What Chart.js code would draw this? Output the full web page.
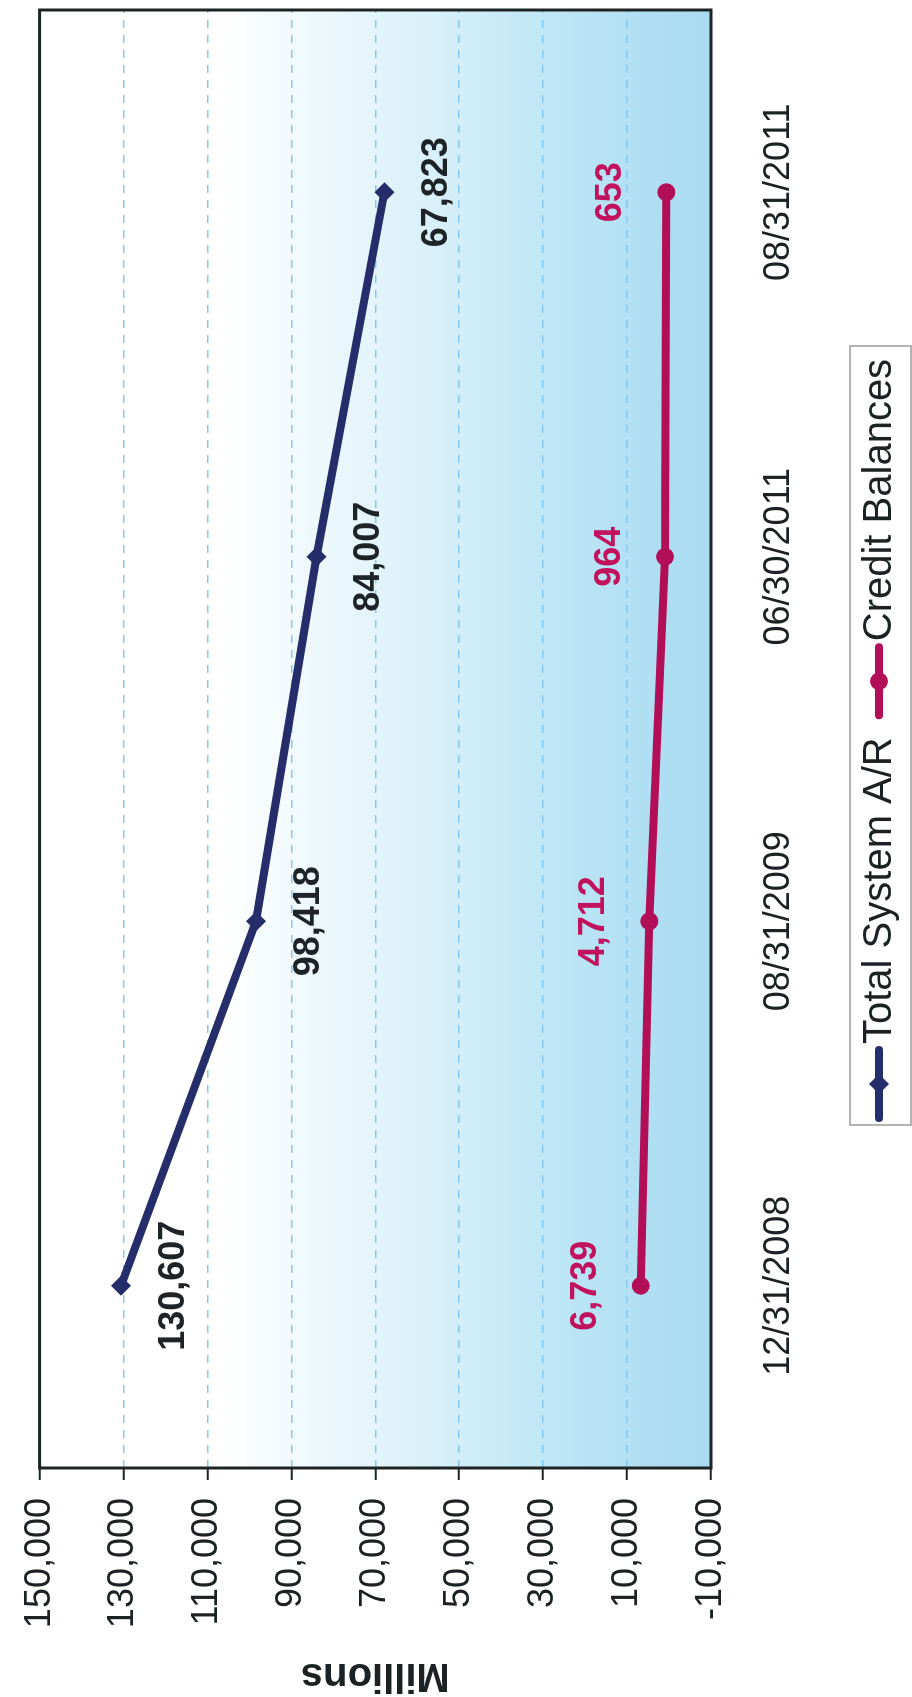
<!DOCTYPE html>
<html>
<head>
<meta charset="utf-8">
<script src="https://cdn.jsdelivr.net/npm/chart.js@4.4.0/dist/chart.umd.min.js"></script>
<style>
  html, body { margin: 0; padding: 0; background: #fff; overflow: hidden; width: 912px; height: 1697px; }
  /* the whole chart is laid out landscape and turned a quarter turn counter-clockwise */
  #wrap { position: absolute; left: 0; top: 0; width: 1697px; height: 912px;
          transform-origin: 0 0; transform: translateY(1697px) rotate(-90deg); }
  #chart { display: block; width: 1697px; height: 912px; }
</style>
</head>
<body>
<div id="wrap"><canvas id="chart" width="1697" height="912"></canvas></div>
<script>
// Data
const categories = ['12/31/2008', '08/31/2009', '06/30/2011', '08/31/2011'];
const totalSystemAR = [130607, 98418, 84007, 67823];
const creditBalances = [6739, 4712, 964, 653];
const valueTicks = [-10000, 10000, 30000, 50000, 70000, 90000, 110000, 130000, 150000];

const FONT = "'Liberation Sans', Arial, sans-serif";
const TEXT = '#1c2224';
const NAVY = '#252e6a';
const CRIMSON = '#b30f58';
const GRID = '#86c8f0';

// plot background: white at the top fading into light blue
const backgroundPlugin = {
  id: 'plotBackground',
  beforeDraw(chart) {
    const { ctx, chartArea: a } = chart;
    const g = ctx.createLinearGradient(0, a.top, 0, a.bottom);
    g.addColorStop(0, '#ffffff');
    g.addColorStop(0.27, '#ffffff');
    g.addColorStop(0.55, '#ddf2fa');
    g.addColorStop(0.78, '#bce5f5');
    g.addColorStop(1, '#a8daf0');
    ctx.save();
    ctx.fillStyle = g;
    ctx.fillRect(a.left, a.top, a.right - a.left, a.bottom - a.top);
    ctx.restore();
  }
};

// dark frame round the plot area
const framePlugin = {
  id: 'plotFrame',
  beforeDatasetsDraw(chart) {
    const { ctx, chartArea: a } = chart;
    ctx.save();
    ctx.strokeStyle = '#1e2424';
    ctx.lineWidth = 3;
    ctx.strokeRect(a.left, a.top, a.right - a.left, a.bottom - a.top);
    ctx.restore();
  }
};

// bold value labels under / over each point
const valueLabelPlugin = {
  id: 'valueLabels',
  afterDatasetsDraw(chart) {
    const ctx = chart.ctx;
    ctx.save();
    ctx.font = 'bold 36px ' + FONT;
    ctx.textAlign = 'center';
    ctx.textBaseline = 'middle';
    chart.data.datasets.forEach((ds, i) => {
      const meta = chart.getDatasetMeta(i);
      ctx.fillStyle = ds.labelColor;
      meta.data.forEach((pt, j) => {
        ctx.fillText(ds.data[j].toLocaleString('en-US'), pt.x, pt.y + ds.labelShift);
      });
    });
    ctx.restore();
  }
};

function drawMarker(ctx, style, x, y, r, color) {
  ctx.fillStyle = color;
  ctx.beginPath();
  if (style === 'rectRot') {
    ctx.moveTo(x, y - r);
    ctx.lineTo(x + r, y);
    ctx.lineTo(x, y + r);
    ctx.lineTo(x - r, y);
    ctx.closePath();
  } else {
    ctx.arc(x, y, r, 0, Math.PI * 2);
  }
  ctx.fill();
}

// legend box under the category labels
const legendPlugin = {
  id: 'boxLegend',
  afterDraw(chart) {
    const ctx = chart.ctx;
    const box = { left: 572, right: 1351, top: 850, bottom: 911 };
    const cy = 879;
    ctx.save();
    ctx.strokeStyle = '#9a9a9a';
    ctx.lineWidth = 1.5;
    ctx.strokeRect(box.left, box.top, box.right - box.left, box.bottom - box.top);
    ctx.font = '40px ' + FONT;
    ctx.textBaseline = 'middle';
    ctx.textAlign = 'left';
    let x = box.left + 7;
    chart.data.datasets.forEach((ds) => {
      ctx.strokeStyle = ds.borderColor;
      ctx.lineWidth = 8;
      ctx.lineCap = 'round';
      ctx.beginPath();
      ctx.moveTo(x, cy);
      ctx.lineTo(x + 68, cy);
      ctx.stroke();
      drawMarker(ctx, ds.pointStyle, x + 34, cy, ds.pointRadius, ds.borderColor);
      ctx.fillStyle = TEXT;
      ctx.fillText(ds.label, x + 74, cy + 1);
      x += 74 + ctx.measureText(ds.label).width + 22;
    });
    ctx.restore();
  }
};

const ctx = document.getElementById('chart').getContext('2d');
new Chart(ctx, {
  type: 'line',
  data: {
    labels: categories,
    datasets: [
      {
        label: 'Total System A/R',
        data: totalSystemAR,
        borderColor: NAVY,
        backgroundColor: NAVY,
        borderWidth: 8,
        borderCapStyle: 'round',
        borderJoinStyle: 'round',
        pointStyle: 'rectRot',
        pointRadius: 10,
        pointBorderWidth: 0,
        labelColor: '#1d2326',
        labelShift: 53
      },
      {
        label: 'Credit Balances',
        data: creditBalances,
        borderColor: CRIMSON,
        backgroundColor: CRIMSON,
        borderWidth: 8,
        borderCapStyle: 'round',
        borderJoinStyle: 'round',
        pointStyle: 'circle',
        pointRadius: 9,
        pointBorderWidth: 0,
        labelColor: '#c2125d',
        labelShift: -55
      }
    ]
  },
  options: {
    responsive: false,
    animation: false,
    devicePixelRatio: 1,
    layout: { padding: { top: 32, right: 5, left: 0, bottom: 0 } },
    plugins: { legend: { display: false }, tooltip: { enabled: false } },
    scales: {
      x: {
        offset: true,
        grid: { display: false, drawTicks: false },
        border: { display: false },
        ticks: { font: { family: FONT, size: 36 }, color: TEXT, padding: 46, maxRotation: 0 },
        afterFit: (s) => { s.height = 201; }
      },
      y: {
        min: valueTicks[0],
        max: valueTicks[valueTicks.length - 1],
        afterBuildTicks: (s) => { s.ticks = valueTicks.map(v => ({ value: v })); },
        grid: {
          color: GRID,
          lineWidth: 1.5,
          tickColor: '#1e2424',
          tickWidth: 2,
          tickLength: 12,
          tickBorderDash: []
        },
        border: { display: false, dash: [8, 7] },
        ticks: {
          font: { family: FONT, size: 36 },
          color: TEXT,
          padding: 18,
          callback: (v) => v.toLocaleString('en-US')
        },
        title: {
          display: true,
          text: 'Millions',
          color: TEXT,
          font: { family: FONT, size: 40, weight: 'bold', lineHeight: 1.1 },
          padding: 0
        },
        afterFit: (s) => { s.width = 229; }
      }
    }
  },
  plugins: [backgroundPlugin, framePlugin, valueLabelPlugin, legendPlugin]
});
</script>
</body>
</html>
